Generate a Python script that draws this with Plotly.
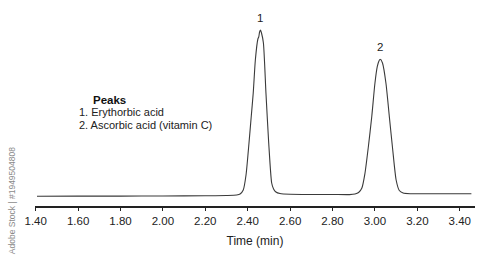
import plotly.graph_objects as go

# Chromatogram trace (time in min, detector signal in a.u.)
time_min = [
    1.406, 1.60, 1.80, 2.00, 2.20, 2.30, 2.348, 2.364, 2.379, 2.392, 2.406, 2.416, 2.426,
    2.436, 2.448, 2.452, 2.456, 2.460, 2.465, 2.474, 2.486, 2.499, 2.513, 2.522, 2.533,
    2.552, 2.600, 2.700, 2.800, 2.880, 2.906, 2.923, 2.938, 2.953, 2.969, 2.985, 3.000,
    3.011, 3.019, 3.025, 3.036, 3.052, 3.068, 3.084, 3.100, 3.115, 3.133, 3.166, 3.300,
    3.455,
]
signal = [
    0.3, 0.4, 0.4, 0.5, 0.7, 1.0, 1.5, 2.5, 6.5, 21.5, 53.5, 78.5, 103.5,
    136.5, 157.5, 159.5, 164.5, 166.5, 163.5, 153.5, 103.5, 53.5, 13.5, 7.5, 4.5,
    3.0, 2.2, 2.0, 2.0, 1.9, 2.5, 4.0, 8.2, 23.2, 49.8, 79.8, 113.2,
    129.8, 135.5, 137.2, 133.2, 113.2, 79.8, 46.5, 16.5, 6.0, 3.5, 2.8, 2.8,
    2.8,
]

peak_labels = ["1", "2"]
peak_times = [2.460, 3.025]
peak_heights = [166.5, 137.2]

legend_title = "Peaks"
legend_lines = ["1. Erythorbic acid", "2. Ascorbic acid (vitamin C)"]

tick_vals = [1.40, 1.60, 1.80, 2.00, 2.20, 2.40, 2.60, 2.80, 3.00, 3.20, 3.40]
tick_text = ["%.2f" % v for v in tick_vals]

watermark = "Adobe Stock | #1949504808"

FONT = "Liberation Sans, Arial, sans-serif"

fig = go.Figure()
fig.add_trace(go.Scatter(
    x=time_min, y=signal, mode="lines",
    line=dict(color="#3a3a3a", width=1.1, shape="spline", smoothing=0.6),
    hoverinfo="skip", showlegend=False,
))

# Peak number labels
for lab, t, h in zip(peak_labels, peak_times, peak_heights):
    fig.add_annotation(x=t, y=h, xref="x", yref="y", text=lab, showarrow=False,
                       yanchor="bottom", yshift=4,
                       font=dict(family=FONT, size=11.5, color="#222"))

# Peak legend block
fig.add_annotation(x=0.130, y=0.516, xref="paper", yref="paper", text="<b>" + legend_title + "</b>",
                   showarrow=False, xanchor="left", yanchor="middle", borderpad=0,
                   font=dict(family=FONT, size=11.5, color="#111"))
for i, line in enumerate(legend_lines):
    fig.add_annotation(x=0.098, y=0.455 - 0.062 * i, xref="paper", yref="paper", text=line,
                       showarrow=False, xanchor="left", yanchor="middle", borderpad=0,
                       font=dict(family=FONT, size=11, color="#222"))

# Stock watermark text at left edge
fig.add_annotation(x=-0.052, y=0.024, xref="paper", yref="paper", text=watermark,
                   showarrow=False, textangle=-90, xanchor="center", yanchor="middle",
                   font=dict(family=FONT, size=8.5, color="#8a8a8a"))

fig.update_layout(
    width=500, height=262,
    margin=dict(l=35, r=25, t=0, b=56, pad=0),
    paper_bgcolor="white", plot_bgcolor="white",
    font=dict(family=FONT, size=11, color="#222"),
    xaxis=dict(
        range=[1.3967, 3.472], tickvals=tick_vals, ticktext=tick_text,
        showline=True, linecolor="#222", linewidth=1.5,
        ticks="outside", ticklen=3, tickwidth=1, tickcolor="#222",
        showgrid=False, zeroline=False,
        tickfont=dict(family=FONT, size=11.5, color="#222"),
        title=dict(text="Time (min)", font=dict(family=FONT, size=12, color="#222"), standoff=11),
    ),
    yaxis=dict(range=[-9.5, 196.5], visible=False, showgrid=False, zeroline=False),
)

fig.write_html("out.html")
